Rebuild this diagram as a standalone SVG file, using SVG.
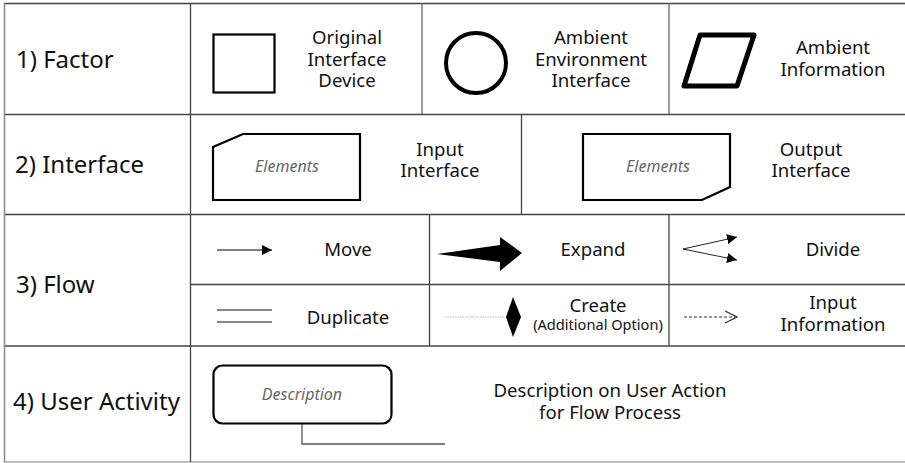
<svg xmlns="http://www.w3.org/2000/svg" width="905" height="463" viewBox="0 0 905 463">
<defs>
<style>
text{font-family:"Noto Sans","Open Sans","DejaVu Sans",sans-serif;fill:#111;}
.lab{font-size:24px;}
.t{font-size:18.6px;text-anchor:middle;}
.s{font-size:14.6px;text-anchor:middle;}
.el{font-size:16px;font-style:italic;fill:#666;text-anchor:middle;}
.grid{stroke:#444;stroke-width:1.3;fill:none;}
.shape{stroke:#000;fill:#fff;}
</style>
<marker id="ah" viewBox="0 0 10 10" refX="10" refY="5" markerWidth="10" markerHeight="10" markerUnits="userSpaceOnUse" orient="auto"><path d="M0,0 L10,5 L0,10 z" fill="#000"/></marker>
<marker id="oh" viewBox="0 0 14 14" refX="13" refY="7" markerWidth="14" markerHeight="14" markerUnits="userSpaceOnUse" orient="auto"><path d="M1,1 L13,7 L1,13" fill="none" stroke="#333" stroke-width="1.2"/></marker>
</defs>
<rect width="905" height="463" fill="#fff"/>
<g id="grid">
<line class="grid" x1="4" y1="3.5" x2="905" y2="3.5"/>
<line class="grid" x1="4" y1="114.5" x2="905" y2="114.5"/>
<line class="grid" x1="4" y1="214.5" x2="905" y2="214.5"/>
<line class="grid" x1="190" y1="284.5" x2="905" y2="284.5"/>
<line class="grid" x1="4" y1="346" x2="905" y2="346"/>
<line x1="4" y1="462" x2="905" y2="462" stroke="#aaa" stroke-width="1.3"/>
<line x1="4.5" y1="3" x2="4.5" y2="462" stroke="#888" stroke-width="1.5"/>
<line class="grid" x1="190.5" y1="3" x2="190.5" y2="462"/>
<line x1="422" y1="3" x2="422" y2="114" stroke="#666" stroke-width="1.3"/>
<line x1="669" y1="3" x2="669" y2="114" stroke="#666" stroke-width="1.3"/>
<line class="grid" x1="521.5" y1="114" x2="521.5" y2="214"/>
<line class="grid" x1="429.5" y1="214" x2="429.5" y2="346"/>
<line class="grid" x1="669" y1="214" x2="669" y2="346"/>
</g>
<g id="labels">
<text class="lab" x="16" y="68">1) Factor</text>
<text class="lab" x="15" y="173">2) Interface</text>
<text class="lab" x="16" y="293">3) Flow</text>
<text class="lab" x="13" y="410">4) User Activity</text>
</g>
<g id="original-interface-device">
<rect class="shape" x="213.5" y="34.5" width="61" height="58" stroke-width="2.2"/>
<text class="t" x="347" y="44">Original</text>
<text class="t" x="347" y="66">Interface</text>
<text class="t" x="347" y="87">Device</text>
</g>
<g id="ambient-environment-interface">
<circle class="shape" cx="476" cy="63" r="30" stroke-width="4"/>
<text class="t" x="591" y="44">Ambient</text>
<text class="t" x="591" y="66">Environment</text>
<text class="t" x="591" y="87">Interface</text>
</g>
<g id="ambient-information">
<polygon class="shape" points="700,35 754,35 737,86 684,86" stroke-width="5" stroke-linejoin="round"/>
<text class="t" x="833" y="54">Ambient</text>
<text class="t" x="833" y="76">Information</text>
</g>
<g id="input-interface">
<polygon class="shape" points="213,147 243,134 360,134 360,200 213,200" stroke-width="2.2"/>
<text class="el" x="287" y="172">Elements</text>
<text class="t" x="440" y="156">Input</text>
<text class="t" x="440" y="177">Interface</text>
</g>
<g id="output-interface">
<polygon class="shape" points="583,134 730,134 730,187 702,200 583,200" stroke-width="2.2"/>
<text class="el" x="658" y="172">Elements</text>
<text class="t" x="811" y="156">Output</text>
<text class="t" x="811" y="177">Interface</text>
</g>
<g id="connectors">
<line x1="217" y1="250" x2="272" y2="250" stroke="#000" stroke-width="1.2" marker-end="url(#ah)"/>
<polygon points="437,254 500,245 500,237 522,253 500,271 500,262" fill="#000"/>
<line x1="683" y1="249" x2="737" y2="237" stroke="#222" stroke-width="1" marker-end="url(#ah)"/>
<line x1="683" y1="249" x2="737" y2="260" stroke="#222" stroke-width="1" marker-end="url(#ah)"/>
<line x1="217" y1="310" x2="272" y2="310" stroke="#888" stroke-width="1.8"/>
<line x1="217" y1="322" x2="272" y2="322" stroke="#888" stroke-width="1.8"/>
<line x1="445" y1="317" x2="507" y2="317" stroke="#bbb" stroke-width="1" stroke-dasharray="1.5,1"/>
<polygon points="513,297 521,317 513,337 506,317" fill="#000"/>
<line x1="684" y1="317" x2="737" y2="317" stroke="#333" stroke-width="1" stroke-dasharray="3,2" marker-end="url(#oh)"/>
<polyline points="302,424 302,444 445,444" fill="none" stroke="#555" stroke-width="1.3"/>
</g>
<g id="flow-labels">
<text class="t" x="348" y="256">Move</text>
<text class="t" x="593" y="256">Expand</text>
<text class="t" x="833" y="256">Divide</text>
<text class="t" x="348" y="324">Duplicate</text>
<text class="t" x="598" y="312">Create</text>
<text class="s" x="598" y="330">(Additional Option)</text>
<text class="t" x="833" y="309">Input</text>
<text class="t" x="833" y="331">Information</text>
</g>
<g id="user-activity">
<rect class="shape" x="213.5" y="365.5" width="178" height="58" rx="9" stroke-width="2.2"/>
<text class="el" x="302" y="400">Description</text>
<text class="t" x="610" y="397">Description on User Action</text>
<text class="t" x="610" y="419">for Flow Process</text>
</g>
</svg>
